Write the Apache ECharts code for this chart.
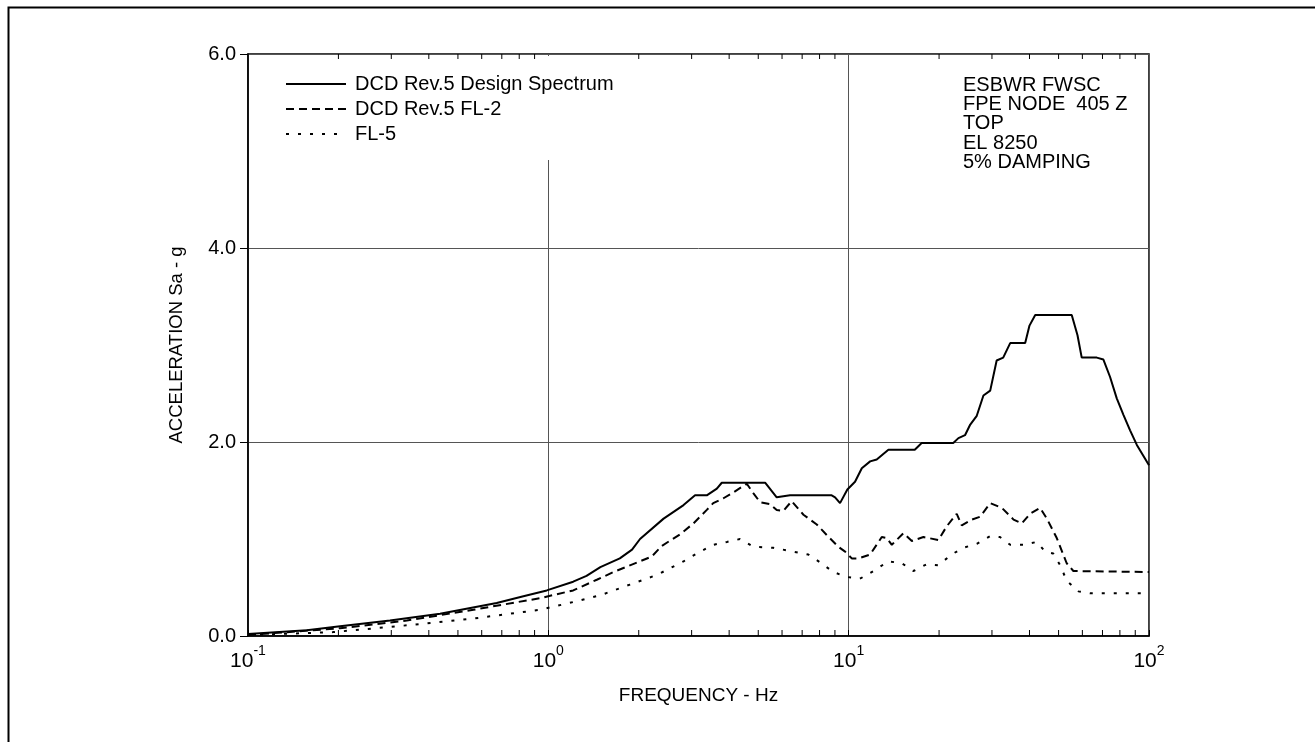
<!DOCTYPE html>
<html>
<head>
<meta charset="utf-8">
<script src="https://cdn.jsdelivr.net/npm/echarts@6/dist/echarts.min.js"></script>
<style>
  html, body { margin: 0; padding: 0; background: #fff; }
  #chart { width: 1315px; height: 742px; }
</style>
</head>
<body>
<div id="chart"></div>
<script>
// Response spectra, [frequency Hz, spectral acceleration g]
const designSpectrum = [
  [0.1, 0.02], [0.157, 0.06], [0.2025, 0.10], [0.297, 0.16], [0.436, 0.23], [0.673, 0.34],
  [0.826, 0.41], [0.988, 0.47], [1.21, 0.56], [1.34, 0.62], [1.49, 0.71], [1.73, 0.80],
  [1.90, 0.89], [2.02, 1.00], [2.42, 1.21], [2.82, 1.35], [3.08, 1.45], [3.37, 1.45],
  [3.64, 1.52], [3.78, 1.58], [5.27, 1.58], [5.76, 1.43], [6.38, 1.45], [8.78, 1.45],
  [9.01, 1.43], [9.36, 1.37], [9.9, 1.51], [10.5, 1.59], [11.06, 1.73], [11.79, 1.80],
  [12.4, 1.82], [13.56, 1.92], [16.6, 1.92], [17.5, 1.99], [22.3, 1.99], [23.2, 2.04],
  [24.4, 2.07], [25.4, 2.18], [26.7, 2.27], [28.1, 2.48], [29.6, 2.53], [31.1, 2.84],
  [32.7, 2.87], [34.5, 3.02], [38.7, 3.02], [40.0, 3.20], [41.8, 3.31], [55.3, 3.31],
  [57.8, 3.10], [59.7, 2.87], [67.0, 2.87], [70.5, 2.85], [74.2, 2.67], [78.1, 2.45],
  [82.2, 2.28], [86.5, 2.12], [91.1, 1.97], [100, 1.76]
];

const fl2Spectrum = [
  [0.1, 0.01], [0.2025, 0.08], [0.338, 0.16], [0.563, 0.27], [0.938, 0.39], [1.21, 0.47],
  [1.45, 0.58], [1.65, 0.66], [2.02, 0.77], [2.21, 0.82], [2.39, 0.93], [2.75, 1.05],
  [3.04, 1.16], [3.37, 1.30], [3.54, 1.37], [3.83, 1.42], [4.13, 1.48], [4.58, 1.57],
  [4.82, 1.47], [5.07, 1.38], [5.47, 1.36], [5.76, 1.30], [6.06, 1.29], [6.46, 1.39],
  [7.07, 1.25], [7.83, 1.15], [8.46, 1.04], [9.24, 0.92], [9.73, 0.87], [10.24, 0.80],
  [10.8, 0.80], [11.79, 0.84], [12.89, 1.02], [13.39, 1.01], [13.92, 0.94], [15.21, 1.06],
  [16.23, 0.98], [17.74, 1.02], [19.9, 0.99], [21.2, 1.13], [22.9, 1.26], [23.8, 1.14],
  [25.7, 1.20], [27.4, 1.23], [29.6, 1.37], [32.4, 1.32], [35.4, 1.20], [37.7, 1.16],
  [40.2, 1.26], [43.4, 1.32], [45.7, 1.21], [49.3, 1.01], [53.2, 0.75], [56.0, 0.67],
  [100, 0.66]
];

const fl5Spectrum = [
  [0.1, 0.01], [0.192, 0.04], [0.338, 0.11], [0.563, 0.18], [0.938, 0.27], [1.21, 0.35],
  [1.49, 0.42], [1.87, 0.53], [2.30, 0.63], [2.82, 0.77], [3.12, 0.85], [3.54, 0.94],
  [3.93, 0.97], [4.35, 1.00], [4.82, 0.92], [5.61, 0.91], [6.54, 0.87], [7.34, 0.84],
  [8.03, 0.76], [8.89, 0.66], [9.8, 0.61], [10.9, 0.59], [12.09, 0.67], [13.56, 0.77],
  [15.03, 0.75], [16.42, 0.67], [18.2, 0.74], [19.9, 0.73], [22.0, 0.84], [24.1, 0.91],
  [26.7, 0.95], [29.6, 1.03], [31.9, 1.02], [34.5, 0.94], [38.2, 0.94], [42.3, 0.97],
  [45.1, 0.87], [48.0, 0.85], [50.6, 0.73], [53.2, 0.57], [58.2, 0.46], [63.7, 0.44],
  [100, 0.44]
];

const seriesNames = ['DCD Rev.5 Design Spectrum', 'DCD Rev.5 FL-2', 'FL-5'];
const noteLines = ['ESBWR FWSC', 'FPE NODE  405 Z', 'TOP', 'EL 8250', '5% DAMPING'];

const freqMin = 0.1, freqMax = 100;
const accMin = 0, accMax = 6, accStep = 2;

// log-cycle minor tick positions: 2..9 within each decade
const decadeStarts = [0.1, 1, 10];
const minorTicks = [];
decadeStarts.forEach(d => { for (let k = 2; k <= 9; k++) minorTicks.push(+(d * k).toPrecision(3)); });

const FONT = 'Arial, "Liberation Sans", sans-serif';
const chart = echarts.init(document.getElementById('chart'), null, { renderer: 'canvas' });

chart.setOption({
  animation: false,
  backgroundColor: '#fff',
  textStyle: { fontFamily: FONT, color: '#000' },
  grid: {
    left: 248, top: 54, right: 166, bottom: 106,
    show: true, borderColor: '#000', borderWidth: 1.5, backgroundColor: 'transparent'
  },
  xAxis: {
    type: 'log', logBase: 10, min: freqMin, max: freqMax,
    name: 'FREQUENCY - Hz', nameLocation: 'middle', nameGap: 50,
    nameTextStyle: { fontSize: 19, color: '#000', fontFamily: FONT },
    axisLine: { show: true, lineStyle: { color: '#000', width: 1.5 } },
    axisTick: { show: true, inside: true, length: 6, lineStyle: { color: '#000' } },
    minorTick: { show: false },
    splitLine: { show: true, lineStyle: { color: '#555', width: 1 } },
    axisLabel: {
      margin: 8,
      formatter: v => '{b|10}{s|' + Math.round(Math.log10(v)) + '}',
      rich: {
        b: { fontSize: 21, fontFamily: FONT, color: '#000', lineHeight: 28, verticalAlign: 'bottom' },
        s: { fontSize: 14, fontFamily: FONT, color: '#000', lineHeight: 28, verticalAlign: 'top' }
      }
    }
  },
  yAxis: {
    type: 'value', min: accMin, max: accMax, interval: accStep,
    name: 'ACCELERATION Sa - g', nameLocation: 'middle', nameGap: 62,
    nameTextStyle: { fontSize: 18.5, color: '#000', fontFamily: FONT },
    axisLine: { show: true, lineStyle: { color: '#000', width: 1.5 } },
    axisTick: { show: true, inside: false, length: 8, lineStyle: { color: '#000' } },
    splitLine: { show: true, lineStyle: { color: '#555', width: 1 } },
    axisLabel: { fontSize: 20, color: '#000', fontFamily: FONT, margin: 12, formatter: v => v.toFixed(1) }
  },
  legend: {
    orient: 'vertical', left: 250, top: 56, z: 4,
    padding: [18, 40, 16, 35],
    backgroundColor: '#fff',
    itemWidth: 60, itemHeight: 14, itemGap: 5,
    itemStyle: { color: 'rgba(0,0,0,0)', borderColor: 'rgba(0,0,0,0)', borderWidth: 0 },
    textStyle: { fontSize: 20, lineHeight: 20, color: '#000', fontFamily: FONT, padding: [0, 0, 0, 4] },
    data: seriesNames,
    selectedMode: false
  },
  graphic: [
    {
      type: 'rect', left: 6, top: 5, z: -10, silent: true,
      shape: { width: 1400, height: 800 },
      style: { fill: 'none', stroke: '#000', lineWidth: 2 }
    },
    {
      type: 'text', left: 963, top: 75, silent: true,
      style: { text: noteLines.join('\n'), font: '20px ' + FONT, fill: '#000', lineHeight: 19.4 }
    }
  ],
  series: [
    {
      name: seriesNames[0], type: 'line', data: designSpectrum, symbol: 'none',
      lineStyle: { color: '#000', width: 2, type: 'solid' }, z: 3
    },
    {
      name: seriesNames[1], type: 'line', data: fl2Spectrum, symbol: 'none',
      lineStyle: { color: '#000', width: 2, type: [8, 5] }, z: 3
    },
    {
      name: seriesNames[2], type: 'line', data: fl5Spectrum, symbol: 'none',
      lineStyle: { color: '#000', width: 2, type: [3, 9] }, z: 3
    },
    {
      // minor log ticks along the bottom and top edges of the plot frame
      type: 'custom', silent: true, clip: false, z: 6,
      data: minorTicks.map(f => [f]),
      renderItem: (params, api) => {
        const f = api.value(0);
        const b = api.coord([f, accMin]);
        const t = api.coord([f, accMax]);
        return {
          type: 'group',
          children: [
            { type: 'line', shape: { x1: b[0], y1: b[1], x2: b[0], y2: b[1] - 6 }, style: { stroke: '#000', lineWidth: 1 } },
            { type: 'line', shape: { x1: t[0], y1: t[1], x2: t[0], y2: t[1] + 5 }, style: { stroke: '#000', lineWidth: 1 } }
          ]
        };
      }
    }
  ]
});
</script>
</body>
</html>
